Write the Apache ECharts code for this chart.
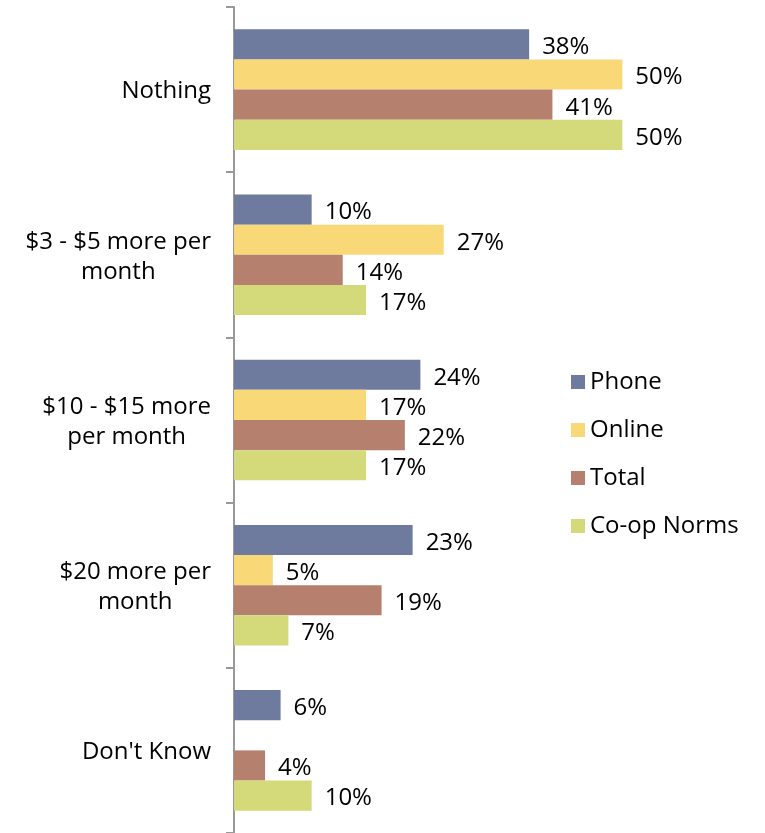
<!DOCTYPE html>
<html>
<head>
<meta charset="utf-8">
<script src="https://cdn.jsdelivr.net/npm/echarts@6/dist/echarts.min.js"></script>
<style>
  html, body { margin: 0; padding: 0; background: #ffffff; }
  #chart { width: 765px; height: 833px; }
</style>
</head>
<body>
<div id="chart"></div>
<script>
// Willingness to pay more, by survey mode
const categories = ['Nothing', '$3 - $5 more per\nmonth', '$10 - $15 more\nper month', '$20 more per\nmonth', "Don't Know"];
const seriesNames = ['Phone', 'Online', 'Total', 'Co-op Norms'];
const phone = [38, 10, 24, 23, 6];
const online = [50, 27, 17, 5, null];
const total = [41, 14, 22, 19, 4];
const coopNorms = [50, 17, 17, 7, 10];
const seriesValues = [phone, online, total, coopNorms];
const colors = ['#6f7a9f', '#f9d878', '#b5806e', '#d4d97a'];

const FONT = 'Open Sans';
const FS = 24;

const chart = echarts.init(document.getElementById('chart'), null, { renderer: 'canvas' });

chart.setOption({
  animation: false,
  textStyle: { fontFamily: FONT, color: '#000' },
  legend: {
    orient: 'vertical',
    left: 566,
    top: 365,
    itemWidth: 14,
    itemHeight: 14,
    itemGap: 24,
    icon: 'rect',
    textStyle: { fontFamily: FONT, fontSize: FS, color: '#000', padding: [2, 0, 0, 0] },
    data: seriesNames
  },
  grid: { left: 234, top: 7, bottom: 0, right: 65, containLabel: false },
  xAxis: {
    type: 'value',
    min: 0,
    max: 60,
    show: false
  },
  yAxis: {
    type: 'category',
    inverse: true,
    data: categories,
    axisLine: { show: true, lineStyle: { color: '#999', width: 2 } },
    axisTick: { show: true, length: 8, lineStyle: { color: '#999', width: 2 } },
    axisLabel: {
      margin: 23,
      fontFamily: FONT,
      fontSize: FS,
      color: '#000',
      lineHeight: 30,
      padding: [4, 0, 0, 0],
      formatter: function (v) {
        return v.split('\n').map(function (l) { return '{c|' + l + '}'; }).join('\n');
      },
      rich: {
        c: { align: 'center', fontFamily: FONT, fontSize: FS, lineHeight: 30, color: '#000' }
      }
    },
    splitLine: { show: false }
  },
  series: seriesNames.map(function (name, i) {
    return {
      name: name,
      type: 'bar',
      data: seriesValues[i],
      barGap: '0%',
      barCategoryGap: '27%',
      itemStyle: { color: colors[i] },
      label: {
        show: true,
        position: 'right',
        distance: 13,
        offset: [0, 3],
        fontFamily: FONT,
        fontSize: FS,
        color: '#000',
        formatter: function (p) { return p.value == null ? '' : p.value + '%'; }
      }
    };
  })
});
</script>
</body>
</html>
